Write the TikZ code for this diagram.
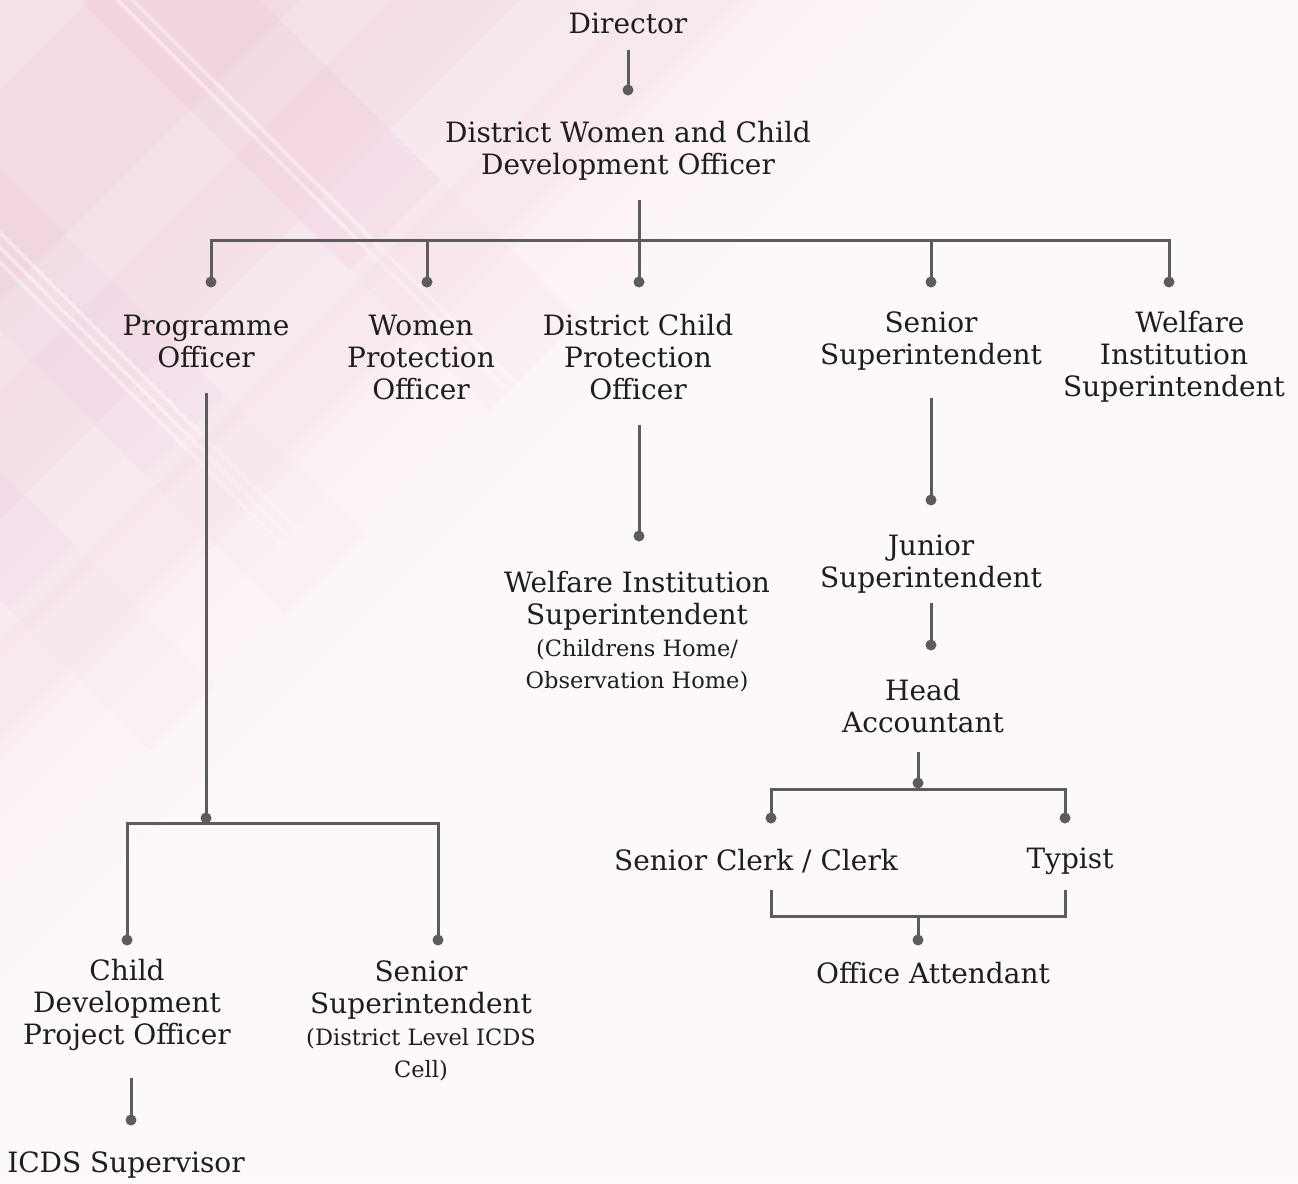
\documentclass[tikz,border=0pt]{standalone}
\usepackage{fontspec}
\setmainfont{DejaVu Serif}

\definecolor{linegrey}{HTML}{5B5B60}
\definecolor{ink}{HTML}{1E1E1E}
\definecolor{blush}{HTML}{F2AFC6}
\definecolor{lilac}{HTML}{E8C3DC}
\definecolor{paper}{HTML}{FDF9FB}

\begin{document}
\begin{tikzpicture}[x=1pt,y=-1pt,
  role/.style={align=center, text=ink, inner sep=0pt, font=\fontsize{28}{32}\selectfont},
  link/.style={draw=linegrey, line width=3pt, line join=miter},
  dot/.style={circle, fill=linegrey, minimum size=11pt, inner sep=0pt},
]
\newcommand{\smallnote}{\fontsize{22.5}{32}\selectfont}

% ---------- background: pale plaid fading out from the upper-left corner ----------
\useasboundingbox (0,0) rectangle (1298,1183);
\fill[paper] (0,0) rectangle (1298,1183);
\begin{scope}
  \clip (0,0) rectangle (1298,1183);
  % stepped corner tint
  \foreach \c in {980,900,820,740,660,580,500,420,340}
    \fill[blush, opacity=0.035] (0,0) -- (\c,0) -- (0,\c) -- cycle;
  % pink bands running up to the right
  \foreach \a/\b/\o in {90/300/0.12, 390/520/0.10, 640/760/0.05}
    \fill[blush, opacity=\o] (\a,0) -- (\b,0) -- (0,\b) -- (0,\a) -- cycle;
  % bands running down to the right, strongest near the corner
  \foreach \lim/\o in {620/0.09, 900/0.045} {
    \begin{scope}
      \clip (0,0) -- (\lim,0) -- (0,\lim) -- cycle;
      \fill[lilac, opacity=\o] (0,330) -- (0,170) -- (1200,1370) -- (1200,1530) -- cycle;
      \fill[blush, opacity=\o] (80,0) -- (260,0) -- (1460,1200) -- (1280,1200) -- cycle;
      \fill[lilac, opacity=\o] (0,600) -- (0,470) -- (1200,1670) -- (1200,1800) -- cycle;
      \foreach \s in {-265,-250,-235,115,130}
        \fill[white, opacity=0.28] (\s,0) -- (\s+5,0) -- (\s+1205,1200) -- (\s+1200,1200) -- cycle;
    \end{scope}
  }
\end{scope}

% ---------- roles ----------
\node[role] (director) at (628,23) {Director};
\node[role] (dwcdo) at (628,151) {District Women and Child\\Development Officer};

\node[role] (po)   at (206,341) {Programme\\Officer};
\node[role] (wpo)  at (421,357) {Women\\Protection\\Officer};
\node[role] (dcpo) at (638,357) {District Child\\Protection\\Officer};
\node[role] (ss)   at (931,341) {Senior\\Superintendent};
\node[role] (wis)  at (1174,357) {\hspace*{32pt}Welfare\\Institution\\Superintendent};

\node[role] (wiscc) at (637,632) {Welfare Institution\\Superintendent\\{\smallnote (Childrens Home/}\\{\smallnote Observation Home)}};
\node[role] (js)  at (931,564) {Junior\\Superintendent};
\node[role] (ha)  at (923,706) {Head\\Accountant};
\node[role] (scc) at (756,861) {Senior Clerk / Clerk};
\node[role] (typ) at (1070,861) {Typist};
\node[role] (oa)  at (933,973) {Office Attendant};

\node[role] (cdpo)   at (127,1005) {Child\\Development\\Project Officer};
\node[role] (ssicds) at (421,1021) {Senior\\Superintendent\\{\smallnote (District Level ICDS}\\{\smallnote Cell)}};
\node[role] (icds)   at (126,1165) {ICDS Supervisor};

% ---------- connector ends ----------
\coordinate (directorfoot) at (628,50);
\coordinate (dwcdofoot) at (639,200);
\coordinate (topbus) at (639,240);
\coordinate (pofoot) at (206,393);
\coordinate (dcpofoot) at (639,425);
\coordinate (ssfoot) at (931,398);
\coordinate (jsfoot) at (931,603);
\coordinate (hafoot) at (918,752);
\coordinate (cdpofoot) at (131,1078);
\coordinate (clerkfoot) at (771,890);
\coordinate (typistfoot) at (1065,890);
\coordinate (pobus) at (206,823);
\coordinate (habus) at (918,789);
\coordinate (staffbus) at (918,916);

% ---------- connectors ----------
\draw[link] (directorfoot) -- (628,90) coordinate (dirjoin);
\draw[link] (dwcdofoot) -- (topbus);
\draw[link] (211,282) coordinate (toL) |- (topbus) -| (1169,282) coordinate (toR);
\draw[link] (427,282) coordinate (toWPO) -- (toWPO |- topbus);
\draw[link] (639,282) coordinate (toDCPO) -- (toDCPO |- topbus);
\draw[link] (931,282) coordinate (toSS) -- (toSS |- topbus);

\draw[link] (pofoot) -- (206,818) coordinate (pojoin);
\draw[link] (127,940) coordinate (toCDPO) |- (pobus) -| (438,940) coordinate (toSSI);
\draw[link] (cdpofoot) -- (131,1120) coordinate (toICDS);

\draw[link] (dcpofoot) -- (639,536) coordinate (toWIS);
\draw[link] (ssfoot) -- (931,500) coordinate (toJS);
\draw[link] (jsfoot) -- (931,645) coordinate (toHA);
\draw[link] (hafoot) -- (918,783) coordinate (hajoin);
\draw[link] (771,818) coordinate (toSC) |- (habus) -| (1065,818) coordinate (toTY);
\draw[link] (clerkfoot) |- (staffbus) -| (typistfoot);
\draw[link] (staffbus) -- (918,940) coordinate (toOA);

% ---------- dots ----------
\foreach \p in {dirjoin,toL,toWPO,toDCPO,toSS,toR,pojoin,toCDPO,toSSI,toICDS,toWIS,toJS,toHA,hajoin,toSC,toTY,toOA}
  \node[dot] at (\p) {};
\end{tikzpicture}
\end{document}
